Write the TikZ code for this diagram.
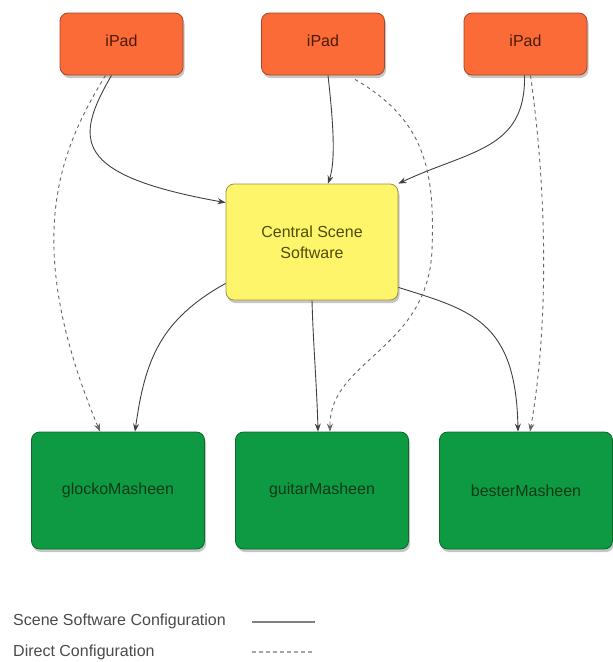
\documentclass[tikz,border=0pt]{standalone}
\usepackage{fontspec}
\setmainfont{Liberation Sans}
\usetikzlibrary{shadows,arrows.meta}
\definecolor{ipadfill}{HTML}{FA6B37}
\definecolor{ipaddraw}{HTML}{A9452A}
\definecolor{ipadtext}{HTML}{4A1C08}
\definecolor{cenfill}{HTML}{FFF56A}
\definecolor{cendraw}{HTML}{9A9440}
\definecolor{centext}{HTML}{4E4C08}
\definecolor{grnfill}{HTML}{0E9A42}
\definecolor{grndraw}{HTML}{0A6A2C}
\definecolor{grntext}{HTML}{0A3A16}
\definecolor{legtext}{HTML}{4A4A4A}
\tikzset{
  boxbase/.style={rounded corners=8pt, line width=0.8pt, align=center,
    font=\fontsize{16}{21}\selectfont,
    drop shadow={shadow xshift=1.5pt, shadow yshift=-3pt, opacity=0.45}},
  ipadbox/.style={boxbase, fill=ipadfill, draw=ipaddraw, text=ipadtext,
    minimum width=123pt, minimum height=62pt, text depth=6pt},
  cenbox/.style={boxbase, fill=cenfill, draw=cendraw, text=centext,
    minimum width=172pt, minimum height=116pt},
  grnbox/.style={boxbase, fill=grnfill, draw=grndraw, text=grntext,
    minimum width=173pt, minimum height=117pt},
  conn/.style={draw=black!75, line width=0.9pt, -{Stealth[length=8pt,width=6pt]}},
  dconn/.style={conn, draw=black!60, dashed, dash pattern=on 3.5pt off 3.5pt},
  legtxt/.style={anchor=west, text=legtext, font=\fontsize{16}{18}\selectfont, inner sep=0pt},
}
\begin{document}
\begin{tikzpicture}[x=1pt,y=-1pt]
\useasboundingbox (0,0) rectangle (613,662);
\node[ipadbox] (ip1) at (121.5,44) {iPad};
\node[ipadbox] (ip2) at (323,44) {iPad};
\node[ipadbox] (ip3) at (525.5,44) {iPad};
\node[cenbox] (cen) at (312,242) {Central Scene\\Software};
\node[grnbox] (g1) at (118,490.5) {glockoMasheen};
\node[grnbox] (g2) at (322,490.5) {guitarMasheen};
\node[grnbox] (g3) at (526,490.5) {besterMasheen};
% solid
\draw[conn] ([xshift=-10pt]ip1.south) .. controls (74,140) and (72,175) .. ([yshift=-19pt]cen.north west);
\draw[conn] ([xshift=5pt]ip2.south) .. controls (333,120) and (336,160) .. ([xshift=16pt]cen.north);
\draw[conn] ([xshift=-1pt]ip3.south) .. controls (526,150) and (470,150) .. (cen.north east);
\draw[conn] ([yshift=17pt]cen.south west) .. controls (160,320) and (145,360) .. ([xshift=17pt]g1.north);
\draw[conn] ([xshift=0pt]cen.south) .. controls (313,340) and (317,390) .. ([xshift=-4pt]g2.north);
\draw[conn] ([yshift=13pt]cen.south east) .. controls (470,310) and (516,320) .. ([xshift=-8pt]g3.north);
% dashed
\draw[dconn] ([xshift=-16pt]ip1.south) .. controls (60,150) and (20,240) .. ([xshift=-18pt]g1.north);
\draw[dconn] ([xshift=32pt,yshift=-4pt]ip2.south) .. controls (425,120) and (435,170) .. (432,250) .. controls (428,350) and (329,360) .. ([xshift=8pt]g2.north);
\draw[dconn] ([xshift=5pt]ip3.south) .. controls (548,200) and (548,330) .. ([xshift=4pt]g3.north);
% legend
\node[legtxt] (l1) at (13,621) {Scene Software Configuration};
\node[legtxt] (l2) at (13,652) {Direct Configuration};
\coordinate (l1a) at (252,622);
\coordinate (l1b) at (315,622);
\coordinate (l2a) at (252,652);
\coordinate (l2b) at (315,652);
\draw[gray, line width=1.2pt] (l1a) -- (l1b);
\draw[gray!70, line width=1.2pt, dash pattern=on 3.5pt off 3.5pt] (l2a) -- (l2b);
\end{tikzpicture}
\end{document}
